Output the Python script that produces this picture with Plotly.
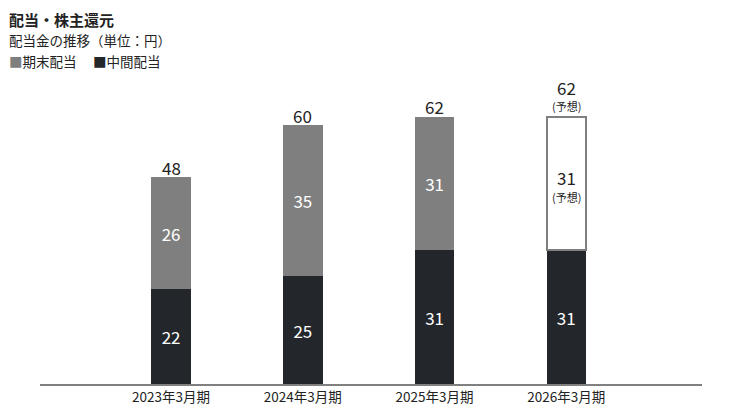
import plotly.graph_objects as go

categories = ["2023年3月期", "2024年3月期", "2025年3月期", "2026年3月期"]
interim = [22, 25, 31, 31]
year_end = [26, 35, 31, 31]
totals = [48, 60, 62, 62]
forecast = [False, False, False, True]
forecast_note = "(予想)"

FONT = "Noto Sans CJK JP, Noto Sans, sans-serif"
GRAY = "#7f7f7f"
DARK = "#23272b"
TXT = "#222222"

ye_fill = ["white" if f else GRAY for f in forecast]
ye_line_w = [2 if f else 0 for f in forecast]
ye_bar_text = ["" if f else str(v) for v, f in zip(year_end, forecast)]

fig = go.Figure()
fig.add_trace(go.Bar(
    x=categories, y=interim, width=0.3,
    marker=dict(color=DARK, line=dict(width=0)),
    text=[str(v) for v in interim], textposition="inside",
    insidetextanchor="middle", textangle=0,
    textfont=dict(color="white", size=17, family=FONT),
    showlegend=False, hoverinfo="skip",
))
fig.add_trace(go.Bar(
    x=categories, y=year_end, width=0.3,
    marker=dict(color=ye_fill, line=dict(color=GRAY, width=ye_line_w)),
    text=ye_bar_text, textposition="inside",
    insidetextanchor="middle", textangle=0,
    textfont=dict(color="white", size=17, family=FONT),
    showlegend=False, hoverinfo="skip",
))

annotations = [
    dict(text="<b>配当・株主還元</b>", x=0, y=1, xref="paper", yref="paper",
         xanchor="left", yanchor="top", showarrow=False, xshift=-32, yshift=78,
         borderpad=0, font=dict(size=15, color=TXT, family=FONT)),
    dict(text="配当金の推移（単位：円）", x=0, y=1, xref="paper", yref="paper",
         xanchor="left", yanchor="top", showarrow=False, xshift=-32, yshift=57,
         borderpad=0, font=dict(size=13.5, color=TXT, family=FONT)),
    dict(text=f"<span style='color:{GRAY}'>■</span>期末配当　 <span style='color:{DARK}'>■</span>中間配当",
         x=0, y=1, xref="paper", yref="paper",
         xanchor="left", yanchor="top", showarrow=False, xshift=-32, yshift=36,
         borderpad=0, font=dict(size=13.5, color=TXT, family=FONT)),
]

for cat, tot, ie, ye, f in zip(categories, totals, interim, year_end, forecast):
    if f:
        annotations.append(dict(text=str(tot), x=cat, y=tot, xref="x", yref="y",
                                yanchor="middle", yshift=29, showarrow=False, borderpad=0,
                                font=dict(size=17, color=TXT, family=FONT)))
        annotations.append(dict(text=forecast_note, x=cat, y=tot, xref="x", yref="y",
                                yanchor="middle", yshift=11, showarrow=False, borderpad=0,
                                font=dict(size=11, color=TXT, family=FONT)))
        annotations.append(dict(text=str(ye), x=cat, y=ie + ye / 2, xref="x", yref="y",
                                yanchor="middle", yshift=6, showarrow=False, borderpad=0,
                                font=dict(size=17, color=TXT, family=FONT)))
        annotations.append(dict(text=forecast_note, x=cat, y=ie + ye / 2, xref="x", yref="y",
                                yanchor="middle", yshift=-14, showarrow=False, borderpad=0,
                                font=dict(size=11, color=TXT, family=FONT)))
    else:
        annotations.append(dict(text=str(tot), x=cat, y=tot, xref="x", yref="y",
                                yanchor="middle", yshift=10, showarrow=False, borderpad=0,
                                font=dict(size=17, color=TXT, family=FONT)))

fig.update_layout(
    barmode="stack",
    width=719, height=398,
    margin=dict(l=32, r=25, t=78, b=22),
    paper_bgcolor="white", plot_bgcolor="white",
    font=dict(family=FONT, color=TXT),
    xaxis=dict(
        range=[-0.995, 4.03], showline=True, linecolor="#808080", linewidth=2,
        showgrid=False, ticks="", tickfont=dict(size=13.5, color=TXT, family=FONT),
        automargin=False, zeroline=False, fixedrange=True,
    ),
    yaxis=dict(range=[0, 69.1], visible=False, showgrid=False, zeroline=False,
               fixedrange=True, automargin=False),
    annotations=annotations,
)

fig.write_html("out.html")
